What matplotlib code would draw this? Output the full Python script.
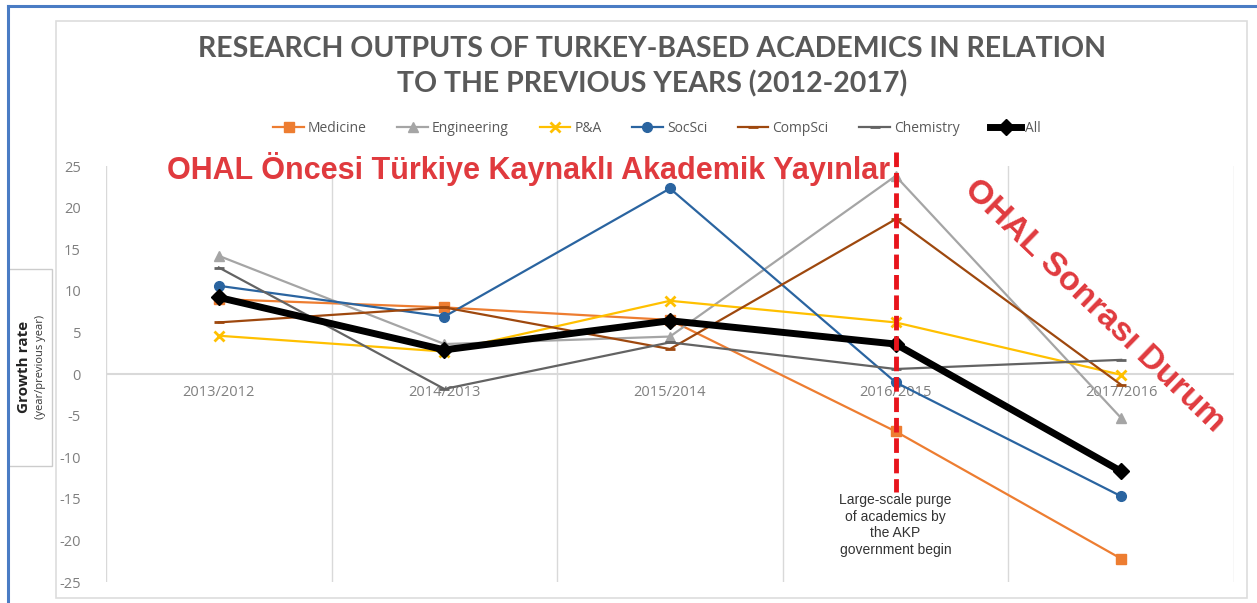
import matplotlib
matplotlib.use("Agg")
import matplotlib.pyplot as plt
from matplotlib.lines import Line2D
from matplotlib.patches import Rectangle

# data
periods = ["2013/2012", "2014/2013", "2015/2014", "2016/2015", "2017/2016"]
medicine = [9.0, 8.0, 6.5, -6.9, -22.2]
engineering = [14.2, 3.6, 4.5, 23.8, -5.3]
p_and_a = [4.6, 2.7, 8.8, 6.2, -0.1]
socsci = [10.6, 6.9, 22.3, -1.0, -14.7]
compsci = [6.2, 8.0, 3.0, 18.6, -1.3]
chemistry = [12.8, -1.8, 3.8, 0.6, 1.7]
all_fields = [9.2, 2.9, 6.4, 3.6, -11.7]

yticks = [25, 20, 15, 10, 5, 0, -5, -10, -15, -20, -25]
purge_idx = 3

series = [
    ("Medicine", medicine, "#ED7D31", "s", 1.6, 7),
    ("Engineering", engineering, "#A5A5A5", "^", 1.6, 7),
    ("P&A", p_and_a, "#FFC000", "x", 1.6, 7),
    ("SocSci", socsci, "#2A64A0", "o", 1.6, 7),
    ("CompSci", compsci, "#9E480E", "_", 1.6, 7),
    ("Chemistry", chemistry, "#636363", "_", 1.6, 7),
    ("All", all_fields, "black", "D", 5.0, 8),
]

fig = plt.figure(figsize=(12.57, 6.03), dpi=100)

# outer frames
fig.add_artist(Line2D([8/1257, 8/1257], [0, 1-6/603], color="#4A7CC4", lw=2.2))
fig.add_artist(Line2D([8/1257, 1], [1-6/603, 1-6/603], color="#4A7CC4", lw=2.2))
fig.add_artist(Rectangle((56/1257, 5/603), (1247-56)/1257, (590-13)/603,
                         fill=False, ec="#DDDDDD", lw=1.2))

ax = fig.add_axes([106/1257, 21/603, (1234-106)/1257, (582-166)/603])
x = list(range(len(periods)))

for name, vals, col, mk, lw, ms in series:
    ax.plot(x, vals, color=col, lw=lw, marker=mk, ms=ms, mew=2 if mk in "x_" else 1,
            mfc=col, mec=col, label=name, zorder=4 if name == "All" else 3)

ax.set_xlim(-0.5, len(periods) - 0.5)
ax.set_ylim(-25, 25)
ax.set_yticks(yticks)
ax.set_yticklabels([str(v) for v in yticks], color="#7F7F7F", fontsize=10.5, family="Open Sans")
ax.tick_params(axis="y", length=0, pad=18)
ax.set_xticks(x)
ax.set_xticklabels([])
for xi, lab in zip(x, periods):
    ax.text(xi, -1.3, lab, ha="center", va="top", color="#7F7F7F", fontsize=10.5,
            family="Open Sans", zorder=2)
ax.tick_params(axis="x", length=0)

for s in ["top", "right", "bottom", "left"]:
    ax.spines[s].set_visible(False)
for b in [i - 0.5 for i in range(len(periods) + 1)]:
    ax.axvline(b, color="#D9D9D9", lw=1, zorder=1)
ax.axhline(0, color="#D9D9D9", lw=1.5, zorder=1)

# purge marker
ax.plot([purge_idx, purge_idx], [26.7, -14.2], color="#E8141C", lw=3.5, ls=(0, (3, 1.2)),
        clip_on=False, zorder=6)
ax.text(purge_idx, -14.3, "Large-scale purge\nof academics by\nthe AKP\ngovernment begin",
        ha="center", va="top", fontsize=10, color="#333333", family="Liberation Sans",
        linespacing=1.25, zorder=7)

ax.text(1.375, 24.6, "OHAL Öncesi Türkiye Kaynaklı Akademik Yayınlar", ha="center", va="center",
        color="#E03A3E", fontsize=22, fontweight="bold", family="Liberation Sans", zorder=7)
ax.text(3.88, 8.2, "OHAL Sonrası Durum", ha="center", va="center", rotation=-44,
        color="#E03A3E", fontsize=24.5, fontweight="bold", family="Liberation Sans", zorder=7,
        rotation_mode="anchor")

fig.text(0.519, 1 - 49/603, "RESEARCH OUTPUTS OF TURKEY-BASED ACADEMICS IN RELATION",
         ha="center", va="center", color="#595959", fontsize=20.5, fontweight="bold", family="Lato")
fig.text(0.519, 1 - 84/603, "TO THE PREVIOUS YEARS (2012-2017)",
         ha="center", va="center", color="#595959", fontsize=20.5, fontweight="bold", family="Lato")

leg = fig.legend(loc="center", bbox_to_anchor=(657/1257, 1 - 128/603), ncol=7, frameon=False,
                 fontsize=10, handlelength=2.2, handletextpad=0.3, columnspacing=2.2,
                 prop={"family": "Open Sans", "size": 10})
for t in leg.get_texts():
    t.set_color("#595959")

# y-axis label box
fig.add_artist(Rectangle((8/1257, 1 - 466/603), 44/1257, (466-269)/603,
                         fill=True, fc="white", ec="#CCCCCC", lw=1))
fig.text(24/1257, 1 - 367/603, "Growth rate", rotation=90, ha="center", va="center",
         fontsize=11, fontweight="bold", color="#222222", family="Open Sans")
fig.text(40/1257, 1 - 367/603, "(year/previous year)", rotation=90, ha="center", va="center",
         fontsize=8, color="#333333", family="Open Sans")

fig.savefig("out.png", dpi=100)
